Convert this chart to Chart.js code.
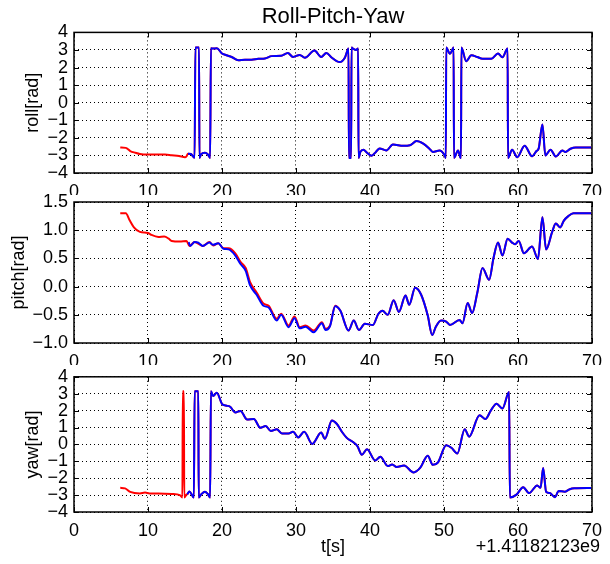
<!DOCTYPE html>
<html>
<head>
<meta charset="utf-8">
<script src="https://cdn.jsdelivr.net/npm/chart.js@4.4.1/dist/chart.umd.min.js"></script>
<style>
  body { margin: 0; background: #fff; }
  #wrap { position: relative; width: 610px; height: 564px; }
  #wrap canvas { position: absolute; left: 0; }
</style>
</head>
<body>
<div id="wrap">
  <canvas id="rollChart" width="610" height="195" style="top:0px"></canvas>
  <canvas id="pitchChart" width="610" height="180" style="top:185px"></canvas>
  <canvas id="yawChart" width="610" height="204" style="top:360px"></canvas>
</div>
<script>
// x ticks shared by all three panels
const xTicks = [0, 10, 20, 30, 40, 50, 60, 70];
const angleTicks = [-4, -3, -2, -1, 0, 1, 2, 3, 4];
const pitchTicks = [-1.0, -0.5, 0.0, 0.5, 1.0, 1.5];

// roll: red (early part only, the rest runs under the blue line)
const rollRedT = [6.25, 7.0, 7.6, 8.3, 8.9, 10.0, 11.4, 12.3, 13.2, 14.2, 15.0, 15.2];
const rollRedV = [-2.55, -2.57, -2.75, -2.85, -2.92, -2.95, -2.95, -2.95, -2.99, -3.03, -3.1, -3.05];
const rollBlueT = [15.4, 15.8, 16.3, 16.4, 16.9, 16.95, 17.15, 17.7, 18.1, 18.4, 18.5, 18.8, 19.3, 20.0, 20.6,
  21.3, 22.2, 23.1, 24.0, 24.9, 25.8, 26.7, 28.0, 28.9, 29.6, 30.5, 31.2, 32.5, 33.4, 34.1, 34.85, 35.9, 36.6,
  37.1, 37.15, 37.45, 37.5, 37.8, 38.1, 38.4, 38.45, 38.7, 39.1, 39.6, 40.2, 40.8, 41.3, 42.2, 43.1, 44.5, 45.4,
  46.3, 47.2, 48.0, 48.5, 49.4, 50.1, 50.25, 50.3, 50.8, 51.2, 51.3, 51.35, 51.9, 52.2, 52.3, 52.35, 53.0, 53.7,
  54.5, 55.2, 56.4, 57.3, 57.9, 58.6, 58.65, 59.2, 59.9, 60.9, 61.9, 62.5, 62.8, 63.3, 63.7, 64.4, 65.1, 66.0,
  66.4, 67.1, 67.8, 69.9];
const rollBlueV = [-2.9, -2.92, -3.13, 3.14, 3.14, -3.14, -2.95, -2.85, -2.95, -3.14, 3.1, 3.08, 3.1, 2.8, 2.7,
  2.6, 2.42, 2.45, 2.45, 2.5, 2.52, 2.65, 2.67, 2.83, 2.6, 2.72, 2.56, 2.97, 2.6, 2.83, 2.56, 2.31, 2.56,
  3.08, -3.14, -3.14, 3.14, 3.05, 3.0, 3.08, -3.14, -2.8, -2.67, -2.85, -3.02, -2.8, -2.6, -2.72, -2.38, -2.45, -2.42,
  -2.18, -2.33, -2.6, -2.8, -2.72, -3.0, -3.14, 3.14, 2.78, 3.08, 3.14, -3.14, -2.72, -3.1, -3.14, 3.14, 2.36, 2.7,
  2.6, 2.5, 2.5, 2.8, 2.58, 3.08, -3.14, -2.68, -3.1, -2.45, -3.05, -2.75, -2.6, -1.24, -3.0, -2.67, -3.06, -2.72,
  -2.8, -2.62, -2.55, -2.55];

// pitch
const pitchRedT = [6.25, 7.0, 7.5, 8.1, 8.9, 10.0, 10.4, 11.4, 12.2, 12.8, 13.2, 14.3, 15.2, 15.6, 16.3, 17.4,
  18.3, 18.8, 19.5, 20.2, 20.9, 21.8, 22.5, 23.2, 23.8, 24.7, 25.6, 26.3, 27.4, 28.0, 29.0, 29.8, 30.5, 31.3,
  32.4, 33.5, 34.0, 34.6, 35.3];
const pitchRedV = [1.3, 1.3, 1.18, 1.05, 0.97, 0.95, 0.92, 0.88, 0.89, 0.85, 0.81, 0.8, 0.81, 0.72, 0.79, 0.72,
  0.79, 0.73, 0.77, 0.68, 0.68, 0.59, 0.44, 0.33, 0.08, -0.11, -0.3, -0.34, -0.57, -0.48, -0.69, -0.53, -0.72, -0.69,
  -0.78, -0.63, -0.75, -0.69, -0.34];
const pitchBlueT = [15.5, 15.7, 16.3, 16.8, 17.4, 18.3, 18.8, 19.5, 20.2, 20.9, 21.8, 22.5, 23.2, 23.8, 24.7,
  25.6, 26.3, 27.4, 28.0, 29.0, 29.8, 30.5, 31.3, 32.4, 33.5, 34.0, 34.6, 35.3, 36.0, 37.1, 37.8, 38.5, 39.3,
  40.4, 41.1, 41.7, 42.4, 43.2, 43.9, 44.8, 45.3, 46.1, 46.9, 47.8, 48.4, 48.9, 49.6, 50.3, 50.8, 52.1, 52.5,
  53.2, 53.8, 54.5, 55.2, 56.1, 56.7, 57.3, 57.9, 58.6, 59.2, 59.6, 60.1, 60.8, 61.9, 62.7, 63.3, 63.8, 64.6,
  65.1, 65.7, 66.2, 66.8, 67.5, 69.9];
const pitchBlueV = [0.79, 0.72, 0.79, 0.78, 0.72, 0.78, 0.74, 0.77, 0.67, 0.66, 0.55, 0.4, 0.28, 0.02, -0.15,
  -0.34, -0.37, -0.6, -0.5, -0.72, -0.56, -0.74, -0.71, -0.81, -0.65, -0.77, -0.7, -0.35, -0.43, -0.78, -0.6, -0.77, -0.66,
  -0.68, -0.49, -0.43, -0.5, -0.24, -0.45, -0.16, -0.32, -0.02, -0.14, -0.51, -0.86, -0.71, -0.6, -0.62, -0.68, -0.59, -0.65,
  -0.29, -0.47, -0.11, 0.33, 0.12, 0.51, 0.78, 0.55, 0.85, 0.78, 0.75, 0.81, 0.59, 0.71, 0.49, 1.23, 0.66, 0.96,
  1.12, 1.05, 1.17, 1.25, 1.3, 1.3];

// yaw
const yawRedT = [6.25, 6.9, 7.6, 8.9, 9.6, 10.2, 11.4, 13.2, 14.3, 14.65, 14.7, 14.85, 14.9, 15.2];
const yawRedV = [-2.57, -2.6, -2.81, -2.9, -2.85, -2.9, -2.9, -2.93, -3.0, -3.14, 3.14, 3.14, -3.14, -2.97];
const yawBlueT = [15.3, 15.6, 16.2, 16.3, 16.8, 16.85, 17.2, 17.7, 18.1, 18.4, 18.5, 18.8, 19.3, 20.0, 20.5,
  21.1, 21.8, 22.5, 23.4, 24.3, 25.2, 25.9, 26.6, 27.4, 28.1, 29.0, 29.6, 30.3, 31.1, 32.2, 33.4, 33.9, 34.85,
  35.5, 36.2, 36.9, 37.7, 38.3, 38.9, 39.6, 40.7, 41.4, 42.4, 43.0, 43.6, 44.6, 45.9, 46.8, 47.8, 48.5, 49.2,
  50.3, 51.0, 51.8, 52.8, 53.4, 54.8, 55.6, 56.3, 57.1, 57.9, 58.8, 58.9, 59.8, 60.7, 61.5, 62.6, 63.05, 63.4,
  63.8, 64.3, 65.0, 65.5, 66.3, 67.0, 67.6, 69.9];
const yawBlueV = [-2.95, -2.79, -3.14, 3.14, 3.14, -3.14, -2.95, -2.8, -2.95, -3.14, 3.14, 2.87, 3.06, 2.4, 2.3,
  2.23, 1.89, 1.98, 1.47, 1.5, 0.98, 1.09, 0.79, 0.9, 0.65, 0.65, 0.75, 0.41, 0.75, 0.03, 0.7, 0.33, 1.41,
  1.22, 0.75, 0.37, 0.14, -0.1, -0.61, -0.29, -0.95, -0.73, -1.28, -1.19, -1.34, -1.25, -1.66, -1.38, -0.67, -1.21, -1.06,
  -0.05, -0.2, -0.54, 0.9, 0.46, 1.73, 1.5, 1.98, 2.41, 2.13, 3.1, -3.14, -2.97, -2.53, -2.88, -2.43, -2.57, -1.39,
  -2.8, -2.88, -3.12, -2.75, -2.8, -2.65, -2.6, -2.58];

const FONT = 'Liberation Sans, Arial, Helvetica, sans-serif';
Chart.defaults.color = '#000';
Chart.defaults.font.family = FONT;
Chart.defaults.font.size = 18;

function pts(t, v) {
  return t.map((x, i) => ({x: x, y: v[i]}));
}

function minus(s) {
  return String(s).replace('-', '\u2212');
}

// black frame with inward tick marks, matplotlib-classic look
const framePlugin = {
  id: 'frame',
  afterDatasetsDraw(chart) {
    const {ctx, chartArea: a, scales} = chart;
    ctx.save();
    ctx.strokeStyle = '#000';
    ctx.lineWidth = 1;
    ctx.beginPath();
    scales.x.ticks.forEach(t => {
      const px = Math.round(scales.x.getPixelForValue(t.value)) + 0.5;
      ctx.moveTo(px, a.bottom); ctx.lineTo(px, a.bottom - 5);
      ctx.moveTo(px, a.top); ctx.lineTo(px, a.top + 5);
    });
    scales.y.ticks.forEach(t => {
      const py = Math.round(scales.y.getPixelForValue(t.value)) + 0.5;
      ctx.moveTo(a.left, py); ctx.lineTo(a.left + 5, py);
      ctx.moveTo(a.right, py); ctx.lineTo(a.right - 5, py);
    });
    ctx.stroke();
    ctx.lineWidth = 1.5;
    ctx.strokeRect(a.left, a.top, a.right - a.left, a.bottom - a.top);
    ctx.restore();
  }
};

const offsetPlugin = {
  id: 'offsetText',
  afterDraw(chart) {
    const ctx = chart.ctx;
    ctx.save();
    ctx.fillStyle = '#000';
    ctx.font = '18px ' + FONT;
    ctx.textAlign = 'right';
    ctx.textBaseline = 'middle';
    ctx.fillText('+1.41182123e9', 600, 187);
    ctx.restore();
  }
};

function makePanel(id, opts) {
  const ctx = document.getElementById(id).getContext('2d');
  const plugins = [framePlugin];
  if (opts.offset) plugins.push(offsetPlugin);
  return new Chart(ctx, {
    type: 'line',
    data: {
      datasets: [{
        data: opts.blue,
        borderColor: '#0000ff',
        borderWidth: 2,
        pointRadius: 0,
        cubicInterpolationMode: 'monotone',
        fill: false
      }, {
        data: opts.red,
        borderColor: '#ff0000',
        borderWidth: 2,
        pointRadius: 0,
        cubicInterpolationMode: 'monotone',
        fill: false
      }]
    },
    options: {
      responsive: false,
      animation: false,
      devicePixelRatio: 1,
      layout: { padding: { top: opts.padTop, right: 12, left: 0, bottom: 0 } },
      plugins: {
        legend: { display: false },
        tooltip: { enabled: false },
        title: {
          display: !!opts.title,
          text: opts.title || '',
          fullSize: false,
          color: '#000',
          font: { size: 22, weight: 'normal', family: FONT },
          padding: { top: 4, bottom: 2 }
        }
      },
      scales: {
        x: {
          type: 'linear',
          min: 0,
          max: 70,
          afterBuildTicks: s => { s.ticks = xTicks.map(v => ({value: v})); },
          afterFit: s => { s.height = opts.xHeight; },
          ticks: { padding: 8, maxRotation: 0, autoSkip: false, callback: v => String(v) },
          grid: { color: '#000', lineWidth: 1, drawTicks: false },
          border: { display: false, dash: [1, 3] },
          title: {
            display: !!opts.xTitle,
            text: opts.xTitle || '',
            color: '#000',
            font: { size: 18, family: FONT },
            padding: { top: 0, bottom: 6 }
          }
        },
        y: {
          type: 'linear',
          min: opts.yTicks[0],
          max: opts.yTicks[opts.yTicks.length - 1],
          afterBuildTicks: s => { s.ticks = opts.yTicks.map(v => ({value: v})); },
          afterFit: s => { s.width = 74; },
          ticks: { padding: 6, autoSkip: false, callback: opts.fmt },
          grid: { color: '#000', lineWidth: 1, drawTicks: false },
          border: { display: false, dash: [1, 3] },
          title: {
            display: true,
            text: opts.yTitle,
            color: '#000',
            font: { size: 18, family: FONT },
            padding: { top: opts.yTitlePad, bottom: 0 }
          }
        }
      }
    },
    plugins: plugins
  });
}

const rollBlue = pts(rollBlueT, rollBlueV);
const pitchBlue = pts(pitchBlueT, pitchBlueV);
const yawBlue = pts(yawBlueT, yawBlueV);

makePanel('rollChart', {
  title: 'Roll-Pitch-Yaw',
  padTop: 0,
  xHeight: 22,
  yTicks: angleTicks,
  yTitle: 'roll[rad]',
  yTitlePad: 22,
  fmt: v => minus(v),
  blue: rollBlue,
  red: pts(rollRedT, rollRedV).concat(rollBlue)
});

makePanel('pitchChart', {
  padTop: 17,
  xHeight: 22,
  yTicks: pitchTicks,
  yTitle: 'pitch[rad]',
  yTitlePad: 8,
  fmt: v => minus(Number(v).toFixed(1)),
  blue: pitchBlue,
  red: pts(pitchRedT, pitchRedV).concat(pitchBlue.filter(p => p.x > 35.3))
});

makePanel('yawChart', {
  padTop: 11,
  xHeight: 52,
  xTitle: 't[s]',
  offset: true,
  yTicks: angleTicks,
  yTitle: 'yaw[rad]',
  yTitlePad: 22,
  fmt: v => minus(v),
  blue: yawBlue,
  red: pts(yawRedT, yawRedV).concat(yawBlue)
});
</script>
</body>
</html>
